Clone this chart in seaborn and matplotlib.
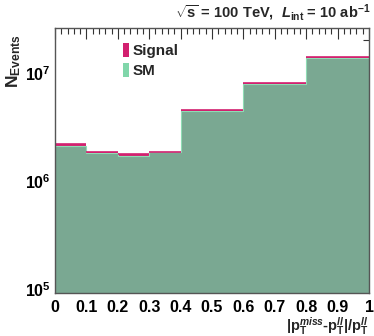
import numpy as np
import pandas as pd
import matplotlib
matplotlib.use("Agg")
import matplotlib.pyplot as plt
import seaborn as sns
from matplotlib.patches import Patch
from matplotlib.ticker import MultipleLocator, LogLocator, NullFormatter, FixedLocator

# ---- data ----
bin_edges = [0.0, 0.1, 0.2, 0.3, 0.4, 0.6, 0.8, 1.0]
sm_values = [2.10e6, 1.82e6, 1.70e6, 1.84e6, 4.45e6, 7.95e6, 1.36e7]
signal_values = [0.10e6, 0.05e6, 0.07e6, 0.01e6, 0.05e6, 0.06e6, 0.45e6]
x_tick_labels = ["0", "0.1", "0.2", "0.3", "0.4", "0.5", "0.6", "0.7", "0.8", "0.9", "1"]

sns.set_theme(style="white")
plt.rcParams["font.family"] = ["Liberation Sans", "DejaVu Sans"]
plt.rcParams["mathtext.fontset"] = "custom"
plt.rcParams["mathtext.rm"] = "Liberation Sans:bold"
plt.rcParams["mathtext.bf"] = "Liberation Sans:bold"
plt.rcParams["mathtext.it"] = "Liberation Sans:italic:bold"
plt.rcParams["mathtext.default"] = "bf"

centers = [(bin_edges[i] + bin_edges[i + 1]) / 2 for i in range(len(bin_edges) - 1)]
df = pd.DataFrame({
    "x": centers,
    "sm": sm_values,
    "total": [s + g for s, g in zip(sm_values, signal_values)],
})

fig = plt.figure(figsize=(3.74, 3.36), dpi=100)
ax = fig.add_axes([55 / 374, 43 / 336, 314 / 374, 265 / 336])

sig_color = "#d2206f"
sm_fill = "#7aa892"
sm_edge = "#8fdcb5"

sns.histplot(data=df, x="x", weights="total", bins=bin_edges, element="step",
             fill=True, color=sig_color, alpha=1, linewidth=0, ax=ax)
ax.hlines(df["total"], bin_edges[:-1], bin_edges[1:], color=sig_color, linewidth=1.2)
sns.histplot(data=df, x="x", weights="sm", bins=bin_edges, element="step",
             fill=True, color=sm_fill, alpha=1, linewidth=0, ax=ax)
ax.stairs(df["sm"], bin_edges, color=sm_edge, linewidth=0.8, baseline=None)

ax.set_yscale("log")
ax.set_xlim(0, 1)
ax.set_ylim(9.2e4, 2.6e7)

ax.xaxis.set_major_locator(FixedLocator(np.linspace(0, 1, 11)))
ax.set_xticklabels(x_tick_labels, fontweight="bold", fontsize=11.5)
ax.xaxis.set_minor_locator(MultipleLocator(0.02))
ax.yaxis.set_major_locator(LogLocator(base=10, numticks=10))
ax.yaxis.set_minor_locator(LogLocator(base=10, subs=np.arange(2, 10), numticks=10))
ax.yaxis.set_minor_formatter(NullFormatter())
ax.tick_params(axis="both", which="both", direction="in", top=True, right=True,
               colors="#333333", labelcolor="black")
ax.tick_params(axis="both", which="major", length=8, width=0.8, labelsize=11.5, pad=3)
ax.tick_params(axis="both", which="minor", length=4, width=0.8)
ax.tick_params(axis="x", which="major", pad=5)
for lab in ax.get_yticklabels():
    lab.set_fontweight("bold")

for s in ax.spines.values():
    s.set_color("#555555")
    s.set_linewidth(1.0)

ax.set_xlabel(r"$|\mathbf{p}_\mathbf{T}^{\mathit{miss}}$-$\mathbf{p}_\mathbf{T}^{\mathit{ll}}|/\mathbf{p}_\mathbf{T}^{\mathit{ll}}$",
              fontsize=10.5, fontweight="bold")
ax.xaxis.set_label_coords(1.0, -0.085)
ax.xaxis.label.set_ha("right")
ax.xaxis.label.set_va("top")
ax.set_ylabel("")
fig.text(14 / 374, 1 - 34 / 336, r"$\mathbf{N_{Events}}$", rotation=90,
         ha="center", va="top", fontsize=12.5, fontweight="bold")

fig.text(0.99, 1 - 3 / 336, r"$\sqrt{\mathbf{s}}$ = 100 TeV,  $\mathit{L}_{\mathbf{int}}$ = 10 ab$^{\mathbf{-1}}$",
         ha="right", va="top", fontsize=10.5, fontweight="bold")

handles = [Patch(facecolor=sig_color, edgecolor="none", label="Signal"),
           Patch(facecolor="#80d6aa", edgecolor="none", label="SM")]
leg = ax.legend(handles=handles, loc="upper left", bbox_to_anchor=(0.215, 0.945),
                frameon=False, handlelength=0.45, handleheight=1.1, handletextpad=0.2,
                labelspacing=0.3, borderpad=0, borderaxespad=0,
                prop={"weight": "bold", "size": 11, "family": "Liberation Sans"})

fig.savefig("out.png", dpi=100)
